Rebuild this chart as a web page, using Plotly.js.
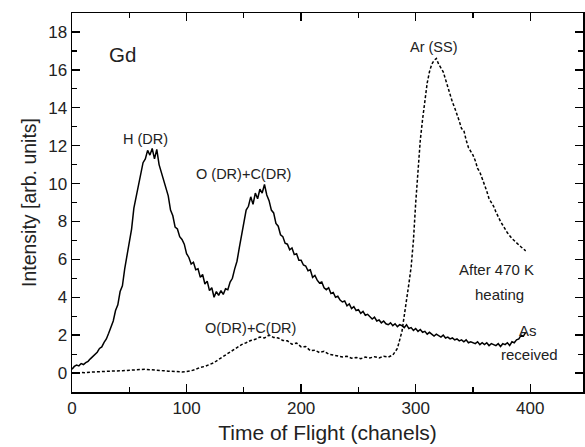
<!DOCTYPE html>
<html>
<head>
<meta charset="utf-8">
<script src="https://cdn.plot.ly/plotly-3.0.1.min.js"></script>
<style>html,body{margin:0;padding:0;background:#fff}#chart{width:585px;height:447px}</style>
</head>
<body>
<div id="chart"></div>
<script>
// As received (solid), channels 0..396 every 2
const asX = [0,2,4,6,8,10,12,14,16,18,20,22,24,26,28,30,32,34,36,38,40,42,44,46,48,50,52,54,56,58,60,62,64,66,68,70,72,74,76,78,80,82,84,86,88,90,92,94,96,98,100,102,104,106,108,110,112,114,116,118,120,122,124,126,128,130,132,134,136,138,140,142,144,146,148,150,152,154,156,158,160,162,164,166,168,170,172,174,176,178,180,182,184,186,188,190,192,194,196,198,200,202,204,206,208,210,212,214,216,218,220,222,224,226,228,230,232,234,236,238,240,242,244,246,248,250,252,254,256,258,260,262,264,266,268,270,272,274,276,278,280,282,284,286,288,290,292,294,296,298,300,302,304,306,308,310,312,314,316,318,320,322,324,326,328,330,332,334,336,338,340,342,344,346,348,350,352,354,356,358,360,362,364,366,368,370,372,374,376,378,380,382,384,386,388,390,392,394,396];
const asY = [0.2,0.35,0.42,0.38,0.5,0.45,0.55,0.62,0.75,0.85,0.95,1.1,1.3,1.38,1.62,1.8,2.1,2.45,2.75,3.3,3.6,4.3,4.6,5.5,6.2,7.1,7.6,8.7,9.3,10.0,10.4,11.1,11.3,11.75,11.5,11.85,11.3,11.8,11.0,10.6,10.2,9.7,9.35,8.6,8.3,7.7,7.6,7.2,7.05,6.8,6.3,6.1,5.75,5.85,5.45,5.5,5.05,5.2,4.7,4.85,4.35,4.5,4.0,4.3,4.1,4.35,4.15,4.45,4.4,4.8,5.0,5.5,5.9,6.6,7.3,8.0,8.6,8.8,9.3,8.9,9.5,9.2,9.7,9.5,9.95,9.4,9.1,8.6,8.45,7.9,7.75,7.3,7.2,6.85,6.8,6.5,6.6,6.25,6.3,5.95,
  5.95,5.7,5.65,5.4,5.45,5.05,5.15,4.9,4.75,4.8,4.5,4.4,4.5,4.2,4.25,4.0,4.05,3.85,3.75,3.8,3.55,3.65,3.4,3.5,3.3,3.35,3.15,3.25,3.05,3.1,2.95,2.85,2.95,2.75,2.8,2.65,2.75,2.6,2.55,2.65,2.5,2.6,2.45,2.55,2.5,2.4,2.55,2.35,2.4,2.25,2.35,2.2,2.3,2.15,2.2,2.05,2.15,2.05,1.95,2.05,1.95,1.9,2.0,1.85,1.9,1.8,1.85,1.75,1.8,1.7,1.75,1.65,1.75,1.6,1.65,1.6,1.55,1.65,1.5,1.6,1.5,1.6,1.45,1.55,1.5,1.45,1.55,1.4,1.55,1.5,1.6,1.45,1.65,1.6,1.75,1.8,2.0,1.95,2.15];

// After 470 K heating (dotted)
const heatX = [0,4,8,12,16,20,24,28,32,36,40,44,48,52,56,60,64,68,72,76,80,84,88,92,96,100,104,108,112,116,120,124,128,132,136,140,144,148,152,156,160,164,168,172,176,180,184,188,192,196,200,204,208,212,216,220,224,228,232,236,240,244,248,252,256,260,264,268,272,276,280,284,288,290,292,294,296,298,300,302,304,306,308,310,312,314,316,318,320,322,324,326,328,330,332,334,336,338,340,342,344,346,348,350,352,354,356,358,360,362,364,366,368,370,372,374,376,378,380,384,388,392,396];
const heatY = [0.02,0.0,0.03,0.02,0.05,0.05,0.07,0.08,0.1,0.1,0.12,0.12,0.14,0.15,0.17,0.2,0.2,0.18,0.17,0.15,0.12,0.1,0.08,0.07,0.06,0.08,0.12,0.2,0.3,0.35,0.45,0.55,0.72,0.88,1.0,1.2,1.32,1.5,1.6,1.72,1.78,1.9,1.85,2.0,1.88,1.85,1.72,1.7,1.52,1.58,1.38,1.4,1.18,1.2,1.08,1.15,1.0,0.95,0.92,0.85,0.88,0.78,0.82,0.76,0.84,0.8,0.86,0.8,0.88,0.84,0.95,1.3,2.2,3.0,3.7,4.7,5.6,7.0,9.0,10.9,12.3,13.4,14.4,15.3,15.9,16.3,16.5,16.6,16.3,16.1,15.9,15.5,15.1,14.6,14.3,14.0,13.7,13.3,12.9,12.8,12.3,11.9,11.7,11.5,11.2,10.8,10.6,10.3,10.0,9.6,9.2,9.0,8.8,8.5,8.2,8.0,7.8,7.6,7.4,7.1,6.85,6.65,6.45];

const xTickVals = [0,100,200,300,400];
const yTickVals = [0,2,4,6,8,10,12,14,16,18];

const labels = [
  {text:'Gd', x:44, y:16.8, size:20.5},
  {text:'H (DR)', x:64, y:12.33, size:14.5},
  {text:'O (DR)+C(DR)', x:149.5, y:10.53, size:14.5},
  {text:'Ar (SS)', x:315.7, y:17.2, size:14.5},
  {text:'O(DR)+C(DR)', x:155.4, y:2.38, size:14.5},
  {text:'After 470 K', x:370.4, y:5.46, size:15},
  {text:'heating', x:373.2, y:4.14, size:15},
  {text:'As', x:398, y:2.24, size:15},
  {text:'received', x:399.4, y:0.97, size:15}
];

const FONT = 'Liberation Sans, Arial, sans-serif';

const traces = [
  {x: asX, y: asY, type:'scatter', mode:'lines', line:{color:'#000', width:1.5}, name:'As received'},
  {x: heatX, y: heatY, type:'scatter', mode:'lines', line:{color:'#000', width:1.5, dash:'3px,2px'}, name:'After 470 K heating'}
];

const axisCommon = {
  showgrid:false, zeroline:false, showline:true, linecolor:'#000', linewidth:1.5,
  mirror:'ticks', ticks:'inside', ticklen:8, tickwidth:1.3, tickcolor:'#000',
  tickfont:{family:FONT, size:17, color:'#222'}
};

const layout = {
  width:585, height:447,
  margin:{l:72, r:2, t:13, b:55},
  paper_bgcolor:'#fff', plot_bgcolor:'#fff',
  showlegend:false,
  font:{family:FONT, color:'#222'},
  xaxis: Object.assign({}, axisCommon, {
    range:[0,446], tickvals:xTickVals, ticktext:xTickVals.map(String),
    minor:{dtick:50, tick0:0, ticks:'inside', ticklen:5, tickcolor:'#000', tickwidth:1.2},
    title:{text:'Time of Flight (chanels)', font:{family:FONT, size:21, color:'#222'}, standoff:8}
  }),
  yaxis: Object.assign({}, axisCommon, {
    range:[-1,19], tickvals:yTickVals, ticktext:yTickVals.map(String),
    minor:{dtick:1, tick0:0, ticks:'inside', ticklen:5, tickcolor:'#000', tickwidth:1.2},
    title:{text:'Intensity [arb. units]', font:{family:FONT, size:19.5, color:'#222'}, standoff:6}
  }),
  annotations: labels.map(l => ({
    text:l.text, x:l.x, y:l.y, xref:'x', yref:'y', showarrow:false,
    font:{family:FONT, size:l.size, color:'#222'}
  }))
};

Plotly.newPlot('chart', traces, layout, {displayModeBar:false, staticPlot:true});
</script>
</body>
</html>
